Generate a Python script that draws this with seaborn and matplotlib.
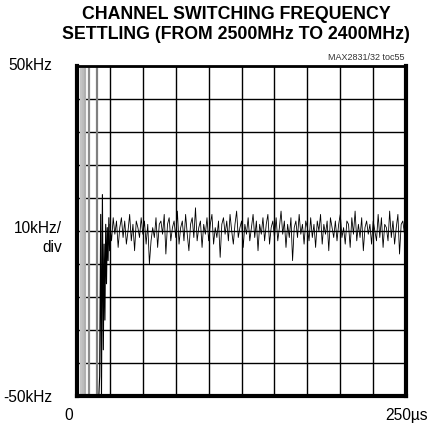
import numpy as np
import matplotlib
matplotlib.use("Agg")
import matplotlib.pyplot as plt
import seaborn as sns

# off-scale swings right after the switch (drawn full height)
swing_t = [2.8, 4.6, 6.1, 9.1, 15.2]
swing_col = ["#c4c4c4", "#bdbdbd", "#b0b0b0", "#8c8c8c", "#808080"]

# settling transient (us, kHz)
trans_t = [16.6, 17.2, 18.0, 18.6, 19.3, 20.0, 20.6, 21.2, 21.8, 22.4, 23.0, 23.6, 24.2, 24.8]
trans_f = [-50, -44, 5, -50, 11, -36, -4, -27, 2, -16, 1, -9, 4, -6]

# residual noise after settling, 1.25us per sample from 25us
t_start, t_step = 25.0, 1.25
noise_f = [
    2, -3, 4, -1, 3, -5, 1, 4, -2, 3, -4, 0, 5, -3, 2, -6, 3, 1, -2, 4,
    -1, 3, -4, 2, -10, -3, 1, -2, 4, -5, 2, 3, -1, 5, -7, 2, 4, -3, 1, 3,
    -2, 6, -4, 1, 3, -3, 5, -1, -6, 2, 4, -2, 7, -3, 1, 3, -5, 2, -1, 4,
    -3, 2, 5, -4, 1, -2, 3, -8, 2, 4, -1, 3, -3, 5, 0, -4, 2, 6, -2, 1,
    3, -5, 2, -1, 4, -3, 1, 5, -2, 3, -6, 2, -1, 4, -3, 2, 5, -4, 1, 3,
    -2, 4, -3, 1, 6, -1, 3, -5, 2, -2, 4, -9, 1, 3, -2, 5, -1, 2, -4, 3,
    1, -3, 4, -2, 2, -5, 3, 0, 5, -4, 2, -1, 3, -6, 4, 1, -2, 3, -3, 2,
    5, -2, 1, -4, 3, 2, -5, 4, -1, 6, -3, 2, -2, 4, -6, 1, 3, -1, 2, -4,
    3, 0, -3, 5, -2, 4, -5, 2, 1, -3, 6, -2, 3, -4, 1, 5, -7, 2, 3, -1,
    2,
]
noise_t = t_start + t_step * np.arange(len(noise_f))

x_ticks = [0, 25, 50, 75, 100, 125, 150, 175, 200, 225, 250]
y_ticks = [-50, -40, -30, -20, -10, 0, 10, 20, 30, 40, 50]

sns.set_style("white")
plt.rcParams["font.family"] = ["Liberation Sans Narrow", "Liberation Sans", "DejaVu Sans"]
plt.rcParams["text.color"] = "black"

fig = plt.figure(figsize=(4.4, 4.3), dpi=100)
ax = fig.add_axes([0.175, 0.079, 0.748, 0.768])

ax.vlines(swing_t, -50, 50, colors=swing_col, linewidth=1.6, zorder=2)
sns.lineplot(x=trans_t, y=trans_f, ax=ax, color="black", linewidth=0.8,
             estimator=None, sort=False, zorder=4)
sns.lineplot(x=noise_t, y=noise_f, ax=ax, color="black", linewidth=0.6,
             estimator=None, sort=False, zorder=4)

ax.set_xlim(0, 250)
ax.set_ylim(-50, 50)
ax.set_xticks(x_ticks)
ax.set_yticks(y_ticks)
ax.grid(True, color="black", linewidth=1.0, zorder=1)
ax.set_axisbelow(True)
ax.tick_params(length=0, labelbottom=False, labelleft=False)
for side in ["left", "bottom", "right"]:
    ax.spines[side].set_linewidth(3)
    ax.spines[side].set_color("black")
ax.spines["top"].set_linewidth(2)
ax.spines["top"].set_color("black")

fig.text(0.537, 0.985, "CHANNEL SWITCHING FREQUENCY\nSETTLING (FROM 2500MHz TO 2400MHz)",
         ha="center", va="top", fontsize=12.8, fontweight="bold", linespacing=1.2)
fig.text(0.92, 0.866, "MAX2831/32 toc55", ha="right", va="center", fontsize=6.5, color="#333333")

ax.text(-0.076, 1.0, "50kHz", transform=ax.transAxes, ha="right", va="center", fontsize=11.2)
ax.text(-0.045, 0.479, "10kHz/\ndiv", transform=ax.transAxes, ha="right", va="center",
        fontsize=11.2, linespacing=1.3)
ax.text(-0.076, -0.005, "-50kHz", transform=ax.transAxes, ha="right", va="center", fontsize=11.2)
ax.text(-0.024, -0.058, "0", transform=ax.transAxes, ha="center", va="center", fontsize=11.2)
ax.text(1.0, -0.058, "250µs", transform=ax.transAxes, ha="center", va="center", fontsize=11.2)

fig.savefig("out.png", dpi=100)
